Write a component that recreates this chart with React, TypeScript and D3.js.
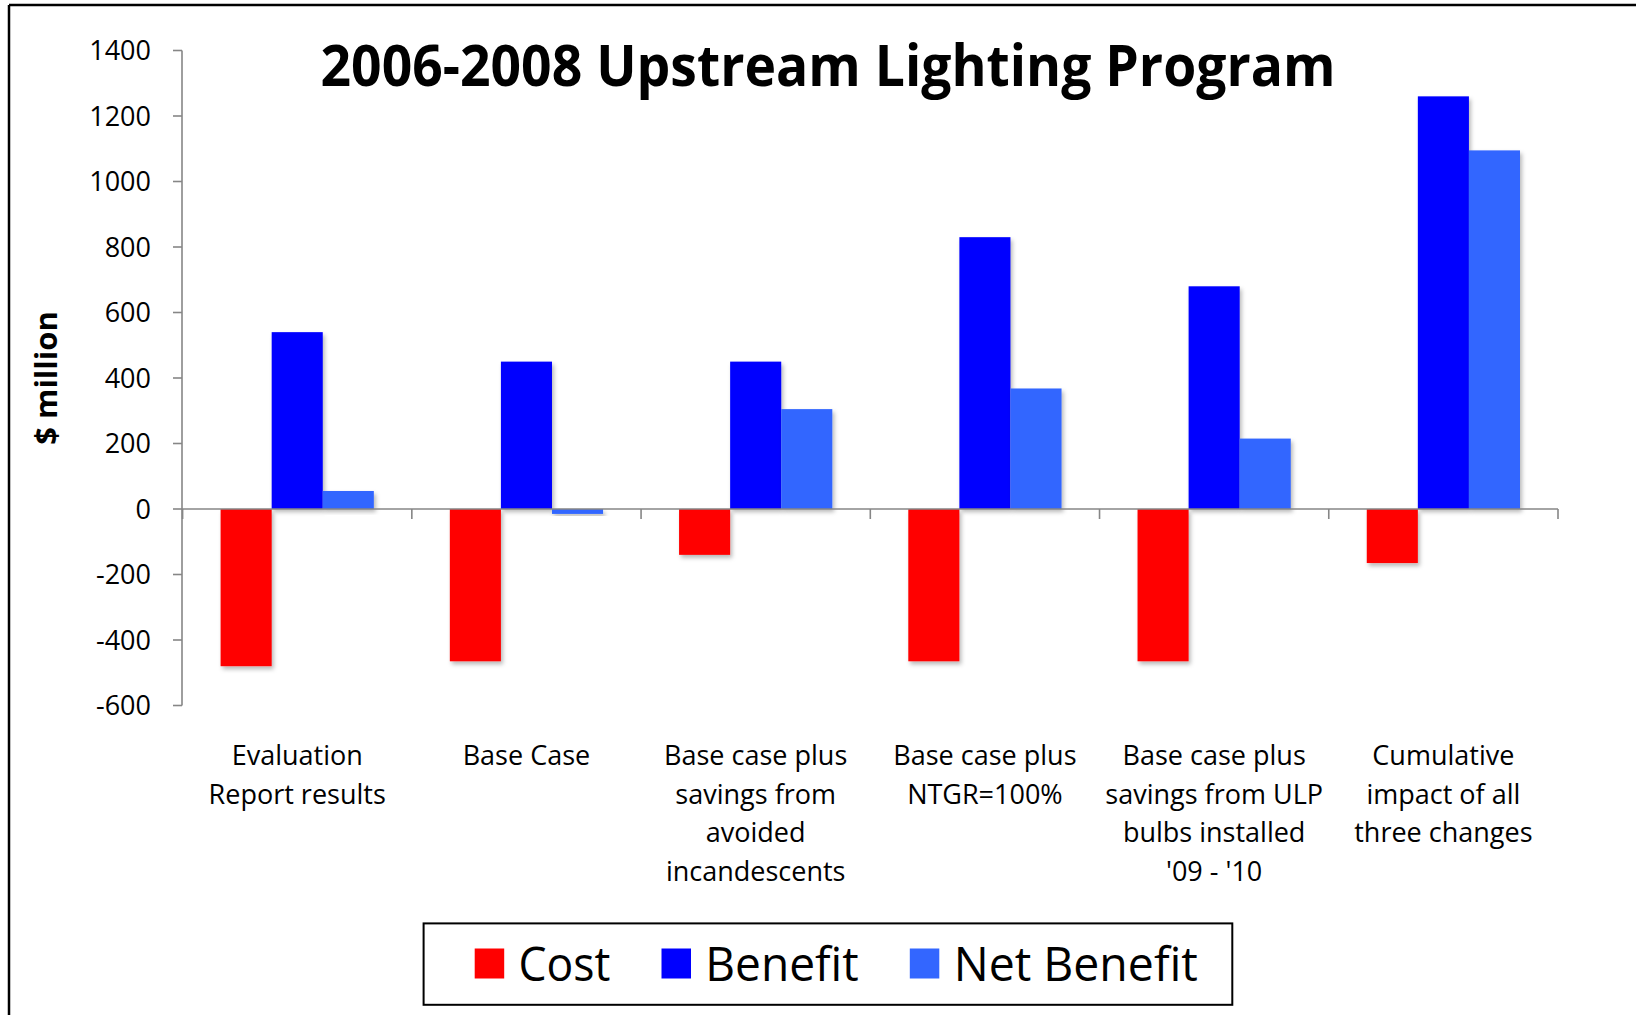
import React from "react";
import * as d3 from "d3";

const categories = [
  ["Evaluation", "Report results"],
  ["Base Case"],
  ["Base case plus", "savings from", "avoided", "incandescents"],
  ["Base case plus", "NTGR=100%"],
  ["Base case plus", "savings from ULP", "bulbs installed", "'09 - '10"],
  ["Cumulative", "impact of all", "three changes"],
];
const seriesNames = ["Cost", "Benefit", "Net Benefit"];
const seriesColors = ["#FF0000", "#0000FF", "#3366FF"];
const costValues = [-480, -465, -140, -465, -465, -165];
const benefitValues = [540, 450, 450, 830, 680, 1260];
const netValues = [55, -15, 305, 368, 215, 1095];
const yTicks = [1400, 1200, 1000, 800, 600, 400, 200, 0, -200, -400, -600];
const title = "2006-2008 Upstream Lighting Program";
const yLabel = "$ million";

const W = 1636;
const H = 1015;
const font = "'Open Sans', 'Noto Sans', sans-serif";
const axisColor = "#868686";

export default function App() {
  const catIds = categories.map((_, i) => String(i));
  const series = [costValues, benefitValues, netValues];
  const y = d3.scaleLinear().domain([-600, 1400]).range([705.5, 50.5]);
  const x0 = d3.scaleBand().domain(catIds).range([182.6, 1558]).padding(0);
  const bw = x0.bandwidth();
  const x1 = d3
    .scaleBand()
    .domain(seriesNames)
    .range([38, bw - 38])
    .padding(0);
  const y0 = y(0);
  const axisX = 182;

  const boundaries = [...catIds.map((c) => x0(c) as number), 1558];

  const legendItems = [
    { sq: 474.7, tx: 518.6, w: 91.8 },
    { sq: 661.5, tx: 705.3, w: 153.4 },
    { sq: 909.8, tx: 953.7, w: 244.1 },
  ];

  return (
    <svg
      width={W}
      height={H}
      style={{ position: "absolute", left: 0, top: 0, background: "#fff" }}
    >
      <defs>
        <filter id="shadow" x="-20%" y="-20%" width="150%" height="150%">
          <feDropShadow dx="2" dy="3" stdDeviation="2" floodColor="#000" floodOpacity="0.28" />
        </filter>
      </defs>
      <rect x={0} y={0} width={W} height={H} fill="#fff" />
      {/* outer border (top & left visible) */}
      <line x1={9} y1={5} x2={W} y2={5} stroke="#000" strokeWidth={2.5} />
      <line x1={9} y1={5} x2={9} y2={H} stroke="#000" strokeWidth={2.5} />

      {/* title */}
      <text
        x={828}
        y={86}
        textAnchor="middle"
        fontFamily={font}
        fontWeight="bold"
        fontSize={57}
        textLength={1015}
        lengthAdjust="spacingAndGlyphs"
        fill="#000"
      >
        {title}
      </text>

      {/* y axis */}
      <line x1={axisX} y1={y(1400)} x2={axisX} y2={y(-600)} stroke={axisColor} strokeWidth={1.6} />
      {yTicks.map((t) => (
        <g key={t}>
          <line x1={axisX - 9} x2={axisX} y1={y(t)} y2={y(t)} stroke={axisColor} strokeWidth={1.6} />
          <text
            x={151}
            y={y(t) + 9.6}
            textAnchor="end"
            fontFamily={font}
            fontSize={27}
            fill="#000"
          >
            {t}
          </text>
        </g>
      ))}
      <text
        transform={`translate(57,378) rotate(-90)`}
        textAnchor="middle"
        fontFamily={font}
        fontWeight="bold"
        fontSize={31}
        fill="#000"
      >
        {yLabel}
      </text>

      {/* bars */}
      {catIds.map((c, i) => (
        <g key={c} transform={`translate(${x0(c)},0)`}>
          {series.map((vals, s) => {
            const v = vals[i];
            const top = Math.min(y(v), y0);
            const h = Math.abs(y(v) - y0);
            return (
              <rect
                key={s}
                x={x1(seriesNames[s])}
                y={top}
                width={x1.bandwidth()}
                height={h}
                fill={seriesColors[s]}
                filter="url(#shadow)"
              />
            );
          })}
        </g>
      ))}

      {/* x axis */}
      <line x1={axisX} x2={1558} y1={y0} y2={y0} stroke={axisColor} strokeWidth={1.6} />
      {boundaries.map((b, i) => (
        <line key={i} x1={b} x2={b} y1={y0} y2={y0 + 10} stroke={axisColor} strokeWidth={1.6} />
      ))}

      {/* category labels */}
      {categories.map((lines, i) => {
        const cx = (x0(String(i)) as number) + bw / 2;
        return (
          <text key={i} textAnchor="middle" fontFamily={font} fontSize={27} fill="#000">
            {lines.map((ln, j) => (
              <tspan key={j} x={cx} y={765 + j * 38.5}>
                {ln}
              </tspan>
            ))}
          </text>
        );
      })}

      {/* legend */}
      <rect x={423.6} y={923.4} width={808.7} height={81.4} fill="none" stroke="#000" strokeWidth={2} />
      {seriesNames.map((n, s) => (
        <g key={n}>
          <rect x={legendItems[s].sq} y={948.5} width={29.5} height={30} fill={seriesColors[s]} />
          <text
            x={legendItems[s].tx}
            y={981}
            fontFamily={font}
            fontSize={48}
            textLength={legendItems[s].w}
            lengthAdjust="spacingAndGlyphs"
            fill="#000"
          >
            {n}
          </text>
        </g>
      ))}
    </svg>
  );
}
